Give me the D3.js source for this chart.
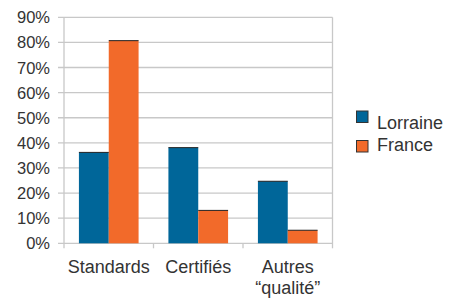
<!DOCTYPE html>
<html>
<head>
<meta charset="utf-8">
<script src="https://cdn.jsdelivr.net/npm/d3@7"></script>
<style>
  body { margin: 0; background: #fff; }
  text { font-family: "Liberation Sans", Arial, sans-serif; fill: #333; }
</style>
</head>
<body>
<svg id="chart" width="458" height="298"></svg>
<script>
// values (percent)
var categories = ['Standards', 'Certifiés', 'Autres\n“qualité”'];
var seriesNames = ['Lorraine', 'France'];
var lorraine = [36.2, 38.1, 24.7];
var france = [80.7, 13.1, 5.2];
var yTicks = [0, 10, 20, 30, 40, 50, 60, 70, 80, 90];
var colors = ['#006699', '#f26a2a'];

var svg = d3.select('#chart');
var plotL = 64, plotR = 332.5, plotT = 17.3, plotB = 243.3;

var x = d3.scaleBand().domain(categories).range([plotL, plotR]);
var inner = d3.scaleBand().domain(seriesNames).range([0, x.bandwidth()])
  .paddingOuter(0.5);
var y = d3.scaleLinear().domain([0, 90]).range([plotB, plotT]);

// gridlines
svg.append('g').selectAll('line').data(yTicks).enter().append('line')
  .attr('x1', plotL - 6).attr('x2', plotR)
  .attr('y1', function (d) { return y(d); })
  .attr('y2', function (d) { return y(d); })
  .attr('stroke', '#c8c8c8').attr('stroke-width', 1.3);

// right border + left axis line
svg.append('line').attr('x1', plotR).attr('x2', plotR).attr('y1', plotT).attr('y2', plotB + 5)
  .attr('stroke', '#c8c8c8').attr('stroke-width', 1.3);
svg.append('line').attr('x1', plotL).attr('x2', plotL).attr('y1', plotT).attr('y2', plotB + 5)
  .attr('stroke', '#c8c8c8').attr('stroke-width', 1.3);

// category ticks
svg.append('g').selectAll('line').data(categories.slice(1)).enter().append('line')
  .attr('x1', function (d) { return x(d); })
  .attr('x2', function (d) { return x(d); })
  .attr('y1', plotB).attr('y2', plotB + 5)
  .attr('stroke', '#c8c8c8').attr('stroke-width', 1.3);

// y labels
svg.append('g').selectAll('text').data(yTicks).enter().append('text')
  .attr('x', 50).attr('y', function (d) { return y(d) + 6; })
  .attr('text-anchor', 'end').style('font-size', '16.5px')
  .text(function (d) { return d + '%'; });

// bars
var rows = categories.map(function (c, i) {
  return { cat: c, vals: [lorraine[i], france[i]] };
});
var groups = svg.append('g').selectAll('g').data(rows).enter().append('g')
  .attr('transform', function (d) { return 'translate(' + x(d.cat) + ',0)'; });
groups.selectAll('rect').data(function (d) {
  return d.vals.map(function (v, j) { return { name: seriesNames[j], v: v, j: j }; });
}).enter().append('rect')
  .attr('x', function (d) { return inner(d.name); })
  .attr('width', inner.bandwidth())
  .attr('y', function (d) { return y(d.v); })
  .attr('height', function (d) { return plotB - y(d.v); })
  .attr('fill', function (d) { return colors[d.j]; });
groups.selectAll('line.top').data(function (d) {
  return d.vals.map(function (v, j) { return { name: seriesNames[j], v: v }; });
}).enter().append('line')
  .attr('x1', function (d) { return inner(d.name); })
  .attr('x2', function (d) { return inner(d.name) + inner.bandwidth(); })
  .attr('y1', function (d) { return y(d.v); })
  .attr('y2', function (d) { return y(d.v); })
  .attr('stroke', '#222').attr('stroke-width', 1);

// x labels
svg.append('g').selectAll('text').data(categories).enter().append('text')
  .attr('x', function (d) { return x(d) + x.bandwidth() / 2; })
  .attr('y', 273.3)
  .attr('text-anchor', 'middle').style('font-size', '18px')
  .each(function (d) {
    var t = d3.select(this);
    d.split('\n').forEach(function (line, k) {
      t.append('tspan').attr('x', x(d) + x.bandwidth() / 2)
        .attr('dy', k === 0 ? 0 : 20.5).text(line);
    });
  });

// legend
var legend = svg.append('g');
legend.selectAll('rect').data(seriesNames).enter().append('rect')
  .attr('x', 356.5).attr('y', function (d, i) { return 111 + i * 29.5; })
  .attr('width', 11.5).attr('height', 11.5)
  .attr('fill', function (d, i) { return colors[i]; })
  .attr('stroke', '#333').attr('stroke-width', 1);
legend.selectAll('text').data(seriesNames).enter().append('text')
  .attr('x', 377).attr('y', function (d, i) { return 128.5 + i * 22.3; })
  .style('font-size', '18px').text(function (d) { return d; });
</script>
</body>
</html>
